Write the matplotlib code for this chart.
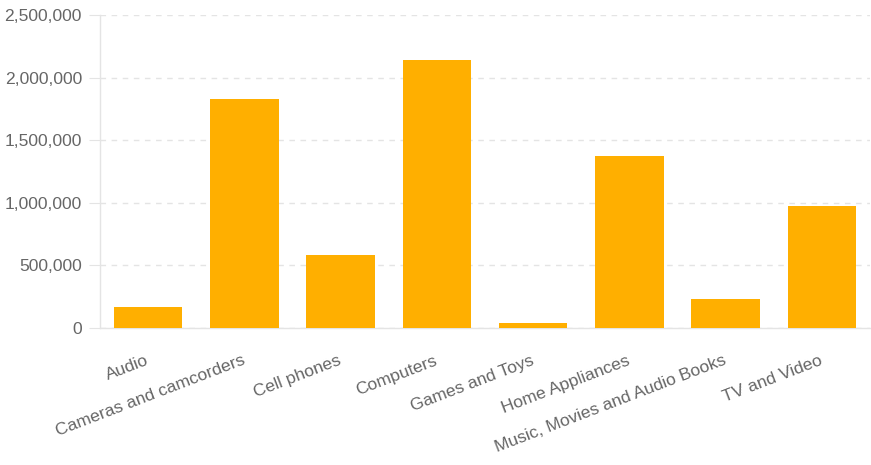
import matplotlib
matplotlib.use("Agg")
import matplotlib.pyplot as plt
from matplotlib.ticker import FuncFormatter, MultipleLocator

# 数据
categories = ["Audio", "Cameras and camcorders", "Cell phones", "Computers",
              "Games and Toys", "Home Appliances", "Music, Movies and Audio Books",
              "TV and Video"]
sales = [167000, 1827000, 585000, 2138000, 42000, 1377000, 234000, 973000]

plt.rcParams['font.family'] = ['Liberation Sans', 'DejaVu Sans']

W, H = 871, 465
fig = plt.figure(figsize=(W / 100, H / 100), dpi=100)
ax = fig.add_axes([100 / W, (H - 328) / H, 770 / W, 313 / H])

grid_col = '#e4e4e4'
text_col = '#666666'

x = range(len(categories))
ax.bar(x, sales, width=0.71, color='#ffaf00', zorder=3)

ax.set_xlim(-0.5, len(categories) - 0.5)
ax.set_ylim(0, 2500000)
ax.yaxis.set_major_locator(MultipleLocator(500000))
ax.yaxis.set_major_formatter(FuncFormatter(lambda v, p: f"{int(v):,}"))
ax.grid(axis='y', color=grid_col, linestyle=(0, (4, 4)), linewidth=1, zorder=0)

for s in ['top', 'right']:
    ax.spines[s].set_visible(False)
for s in ['left', 'bottom']:
    ax.spines[s].set_color(grid_col)
    ax.spines[s].set_linewidth(1)

ax.tick_params(axis='y', length=8, color=grid_col, labelcolor=text_col,
               labelsize=12.6, pad=5)
ax.tick_params(axis='x', length=0, labelcolor=text_col, labelsize=12.6, pad=23)

ax.set_xticks(list(x))
ax.set_xticklabels(categories, rotation=21, ha='right', va='center',
                   rotation_mode='anchor')

fig.savefig("out.png", dpi=100)
